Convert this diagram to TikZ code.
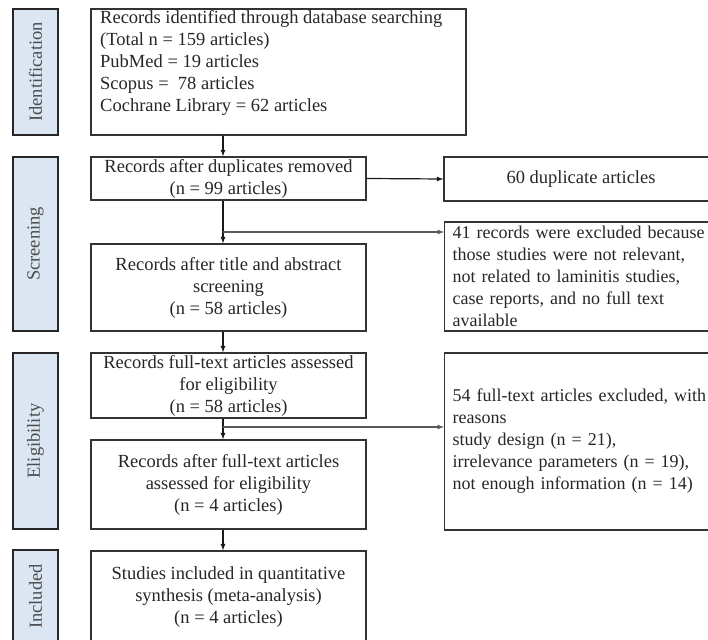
\documentclass[tikz,border=0pt]{standalone}
\usepackage{fontspec}
\setmainfont{Liberation Serif}
\usetikzlibrary{arrows}
\definecolor{stagefill}{RGB}{220,230,242}

\begin{document}
\begin{tikzpicture}[x=1pt,y=-1pt,>=latex,
    txt/.style={font=\fontsize{18.5}{22}\selectfont,text=black!85},
    box/.style={txt,draw=black!80,line width=1.3pt,align=center,inner sep=0pt},
    sidebox/.style={txt,font=\fontsize{18}{22}\selectfont,draw=black!80,line width=1.3pt,align=left,anchor=west,inner xsep=8pt,inner ysep=0pt,text width=300pt},
    stage/.style={txt,text=black!70,draw=black!85,line width=1.6pt,fill=stagefill,rotate=90,minimum height=45pt,inner sep=0pt},
    link/.style={->,draw=black!90,line width=1.2pt},
    branch/.style={->,draw=black!65,line width=1.2pt}]
  \useasboundingbox (0,0) rectangle (708,639);
  \clip (0,0) rectangle (708,639);
  % stages
  \node (s1) [stage,minimum width=126pt] at (35.5,72) {Identification};
  \node (s2) [stage,minimum width=174pt] at (35.5,244) {Screening};
  \node (s3) [stage,minimum width=176pt] at (35.5,441) {Eligibility};
  \node (s4) [stage,minimum width=93pt] at (35.5,596.5) {Included};
  % main column
  \node (b1) [box,minimum width=375pt,minimum height=126pt] at (278.5,72) {};
  \node (t1) [txt,anchor=north west,align=left,inner sep=0pt] at (100,10)
    {Records identified through database searching\\(Total n = 159 articles)\\PubMed = 19 articles\\Scopus =\ \ 78 articles\\Cochrane Library = 62 articles};
  \node (b2) [box,minimum width=275pt,minimum height=43pt] at (228.5,178.5) {Records after duplicates removed\\(n = 99 articles)};
  \node (b3) [box,minimum width=275pt,minimum height=87pt] at (228.5,287.5) {Records after title and abstract\\screening\\(n = 58 articles)};
  \node (b4) [box,minimum width=275pt,minimum height=65pt] at (228.5,385.5) {Records full-text articles assessed\\for eligibility\\(n = 58 articles)};
  \node (b5) [box,minimum width=275pt,minimum height=89pt] at (228.5,484.5) {Records after full-text articles\\assessed for eligibility\\(n = 4 articles)};
  \node (b6) [box,minimum width=275pt,minimum height=92pt] at (228.5,597) {Studies included in quantitative\\synthesis (meta-analysis)\\(n = 4 articles)};
  % exclusions
  \node (r1) [box,minimum width=274pt,minimum height=44pt] at (581,179) {60 duplicate articles};
  \node (r2) [sidebox,minimum height=109pt] at (444,276.5) {41 records were excluded because\\those studies were not relevant,\\not related to laminitis studies,\\case reports, and no full text\\available};
  \node (r3) [sidebox,minimum height=177pt] at (444,441.5) {54 full-text articles excluded, with\\reasons\\study design (n = 21),\\irrelevance parameters (n = 19),\\not enough information (n = 14)};
  % arrows
  \coordinate (spine) at (223,0);
  \coordinate (c1) at (223,232);
  \coordinate (c2) at (223,427);
  \draw[link] (b1.south -| spine) -- (b2.north -| spine);
  \draw[link] (b2.south -| spine) -- (b3.north -| spine);
  \draw[link] (b3.south -| spine) -- (b4.north -| spine);
  \draw[link] (b4.south -| spine) -- (b5.north -| spine);
  \draw[link] (b5.south -| spine) -- (b6.north -| spine);
  \draw[link] (b2.east) -- (r1.west);
  \draw[branch] (c1) -- (c1 -| r2.west);
  \draw[branch] (c2) -- (c2 -| r3.west);
\end{tikzpicture}
\end{document}
